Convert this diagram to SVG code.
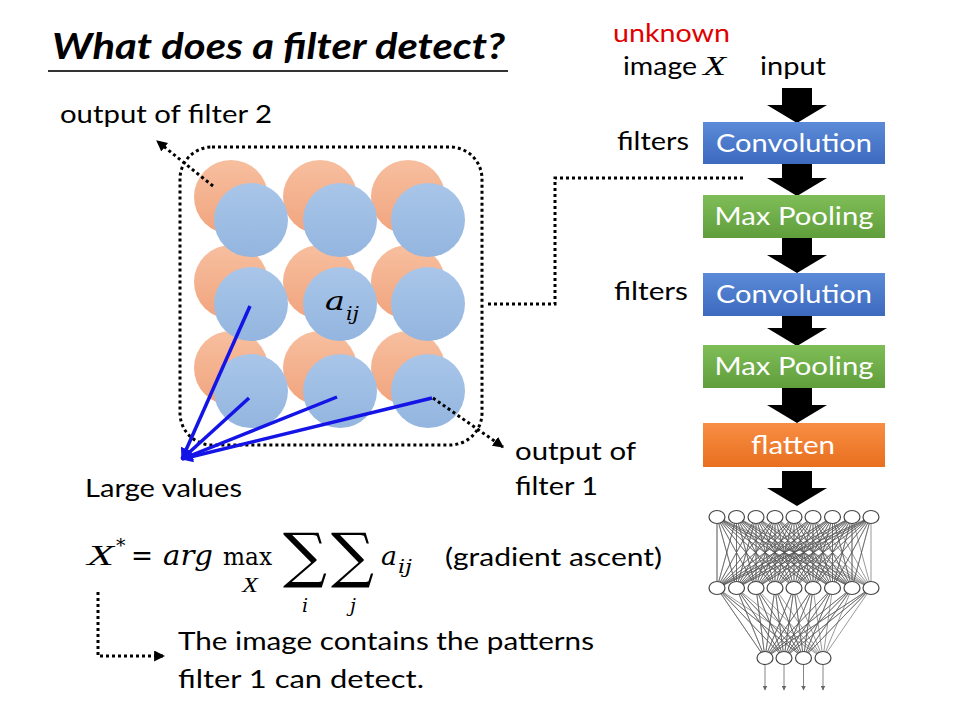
<svg xmlns="http://www.w3.org/2000/svg" width="960" height="720" viewBox="0 0 960 720">
<style>
.t{font-family:Lato,"Open Sans","Liberation Sans",sans-serif;font-size:25px;fill:#000}
.bx{font-family:Lato,"Open Sans","Liberation Sans",sans-serif;font-size:25px;fill:#fff;text-anchor:middle}
.m{font-family:"DejaVu Serif","Liberation Serif",serif;font-style:italic;fill:#000}
.mx{font-family:"Liberation Serif","DejaVu Serif",serif;font-style:italic;fill:#000}
.mu{font-family:"DejaVu Serif","Liberation Serif",serif;fill:#000}
.dot{fill:none;stroke:#000;stroke-width:3;stroke-dasharray:3 3}
.bl{stroke:#1414E6;stroke-width:3.5;fill:none}
.or{fill:url(#go)}
.bu{fill:url(#gb)}
.arr{fill:#000}
.nn{fill:none;stroke:#555;stroke-width:0.6}
.nd{fill:#fff;stroke:#444;stroke-width:1.2}
</style>
<defs>
<linearGradient id="go" x1="0" y1="0" x2="0" y2="1"><stop offset="0" stop-color="#F7BF9F"/><stop offset="1" stop-color="#F1A47E"/></linearGradient>
<linearGradient id="gb" x1="0" y1="0" x2="0" y2="1"><stop offset="0" stop-color="#A9C6E9"/><stop offset="1" stop-color="#93B5DF"/></linearGradient>
<linearGradient id="gcb" x1="0" y1="0" x2="0" y2="1"><stop offset="0" stop-color="#5B8BD8"/><stop offset="1" stop-color="#3D69BE"/></linearGradient>
<linearGradient id="gcg" x1="0" y1="0" x2="0" y2="1"><stop offset="0" stop-color="#7EBD57"/><stop offset="1" stop-color="#5F9E3B"/></linearGradient>
<linearGradient id="gco" x1="0" y1="0" x2="0" y2="1"><stop offset="0" stop-color="#F88E44"/><stop offset="1" stop-color="#E86F1E"/></linearGradient>
<marker id="ah" viewBox="0 0 10 10" refX="9" refY="5" markerWidth="11" markerHeight="11" markerUnits="userSpaceOnUse" orient="auto"><path d="M0,0 L10,5 L0,10 z" fill="#000"/></marker>
<marker id="ahb" viewBox="0 0 10 10" refX="9" refY="5" markerWidth="12" markerHeight="12" markerUnits="userSpaceOnUse" orient="auto"><path d="M0,0 L10,5 L0,10 z" fill="#1414E6"/></marker>
<marker id="ahg" viewBox="0 0 10 10" refX="9" refY="5" markerWidth="5" markerHeight="5" markerUnits="userSpaceOnUse" orient="auto"><path d="M0,0 L10,5 L0,10 z" fill="#666"/></marker>
<path id="bigarrow" d="M-15,0 H15 V17 H30 L0,35 L-30,17 H-15 Z"/>
</defs>

<g id="title">
<text x="52" y="59" font-family="Lato,'Open Sans','Liberation Sans',sans-serif" font-size="36" font-weight="bold" font-style="italic" textLength="453" lengthAdjust="spacingAndGlyphs">What does a filter detect?</text>
<line x1="48" y1="71" x2="508" y2="71" stroke="#333" stroke-width="2"/>
</g>

<g id="label-filter2"><text class="t" x="60" y="123" textLength="212" lengthAdjust="spacingAndGlyphs">output of filter 2</text></g>

<g id="feature-maps">
<rect class="dot" x="180" y="147" width="302" height="298" rx="32"/>
<g id="filter2-output">
<circle class="or" cx="231" cy="197" r="37"/><circle class="or" cx="320" cy="197" r="37"/><circle class="or" cx="408" cy="197" r="37"/>
<circle class="or" cx="231" cy="282" r="37"/><circle class="or" cx="320" cy="282" r="37"/><circle class="or" cx="408" cy="282" r="37"/>
<circle class="or" cx="231" cy="368" r="37"/><circle class="or" cx="320" cy="368" r="37"/><circle class="or" cx="408" cy="368" r="37"/>
</g>
<g id="filter1-output">
<circle class="bu" cx="251" cy="220" r="37"/><circle class="bu" cx="340" cy="220" r="37"/><circle class="bu" cx="428" cy="220" r="37"/>
<circle class="bu" cx="251" cy="304" r="37"/><circle class="bu" cx="340" cy="304" r="37"/><circle class="bu" cx="428" cy="304" r="37"/>
<circle class="bu" cx="251" cy="391" r="37"/><circle class="bu" cx="340" cy="391" r="37"/><circle class="bu" cx="428" cy="391" r="37"/>
</g>
<text class="m" x="325" y="310" font-size="26" textLength="20" lengthAdjust="spacingAndGlyphs">a</text><text class="m" x="346" y="320" font-size="18" textLength="13" lengthAdjust="spacingAndGlyphs">ij</text>
</g>

<g id="connectors">
<path class="dot" d="M213,186 L157,141" marker-end="url(#ah)"/>
<path class="dot" d="M433,398 L503,447" marker-end="url(#ah)"/>
<path class="dot" d="M488,304 H555 V178 H745"/>
<path class="dot" d="M98,592 V656 H164" marker-end="url(#ah)"/>
<path class="bl" d="M250,306 L182,459" marker-end="url(#ahb)"/>
<path class="bl" d="M249,398 L182,459" marker-end="url(#ahb)"/>
<path class="bl" d="M337,397 L182,459" marker-end="url(#ahb)"/>
<path class="bl" d="M432,398 L182,459" marker-end="url(#ahb)"/>
</g>

<g id="label-large"><text class="t" x="85" y="497" textLength="157" lengthAdjust="spacingAndGlyphs">Large values</text></g>
<g id="label-filter1">
<text class="t" x="515" y="460" textLength="121" lengthAdjust="spacingAndGlyphs">output of</text>
<text class="t" x="515" y="495" textLength="83" lengthAdjust="spacingAndGlyphs">filter 1</text>
</g>

<g id="formula">
<text class="mx" x="87" y="565" font-size="30" textLength="27" lengthAdjust="spacingAndGlyphs">X</text>
<text class="mu" x="116" y="552" font-size="19">*</text>
<text class="mu" x="131" y="565" font-size="28" textLength="22" lengthAdjust="spacingAndGlyphs">=</text>
<text class="m" x="163" y="565" font-size="28" textLength="50" lengthAdjust="spacingAndGlyphs">arg</text>
<text class="mu" x="223" y="565" font-size="24" textLength="49" lengthAdjust="spacingAndGlyphs">max</text>
<text class="mx" x="242" y="592" font-size="20" textLength="16" lengthAdjust="spacingAndGlyphs">X</text>
<text font-family="'DejaVu Serif',serif" x="283" y="576" font-size="60" textLength="44" lengthAdjust="spacingAndGlyphs">∑</text>
<text class="m" x="302" y="612" font-size="19">i</text>
<text font-family="'DejaVu Serif',serif" x="331" y="576" font-size="60" textLength="43" lengthAdjust="spacingAndGlyphs">∑</text>
<text class="m" x="350" y="612" font-size="19">j</text>
<text class="m" x="381" y="565" font-size="26" textLength="16" lengthAdjust="spacingAndGlyphs">a</text>
<text class="m" x="398" y="573" font-size="18" textLength="14" lengthAdjust="spacingAndGlyphs">ij</text>
<text class="t" x="445" y="566" textLength="217" lengthAdjust="spacingAndGlyphs">(gradient ascent)</text>
</g>

<g id="conclusion">
<text class="t" x="178" y="650" textLength="416" lengthAdjust="spacingAndGlyphs">The image contains the patterns</text>
<text class="t" x="178" y="688" textLength="246" lengthAdjust="spacingAndGlyphs">filter 1 can detect.</text>
</g>

<g id="input-labels">
<text class="t" x="613" y="42" style="fill:#E00000" textLength="117" lengthAdjust="spacingAndGlyphs">unknown</text>
<text class="t" x="623" y="75" textLength="74" lengthAdjust="spacingAndGlyphs">image</text>
<text class="mx" x="703" y="75" font-size="27" textLength="23" lengthAdjust="spacingAndGlyphs">X</text>
<text class="t" x="760" y="75" textLength="66" lengthAdjust="spacingAndGlyphs">input</text>
<text class="t" x="617" y="150" textLength="72" lengthAdjust="spacingAndGlyphs">filters</text>
<text class="t" x="614" y="300" textLength="74" lengthAdjust="spacingAndGlyphs">filters</text>
</g>

<g id="pipeline-arrows" class="arr">
<use href="#bigarrow" x="797" y="88"/>
<use href="#bigarrow" x="797" y="161"/>
<use href="#bigarrow" x="797" y="238"/>
<use href="#bigarrow" x="797" y="311"/>
<use href="#bigarrow" x="797" y="388"/>
<use href="#bigarrow" x="797" y="471"/>
</g>

<g id="conv1"><rect x="703" y="122" width="182" height="42" fill="url(#gcb)"/><text class="bx" x="794" y="152" textLength="156" lengthAdjust="spacingAndGlyphs">Convolution</text></g>
<g id="pool1"><rect x="703" y="195" width="182" height="43" fill="url(#gcg)"/><text class="bx" x="794" y="225" textLength="159" lengthAdjust="spacingAndGlyphs">Max Pooling</text></g>
<g id="conv2"><rect x="703" y="273" width="182" height="43" fill="url(#gcb)"/><text class="bx" x="794" y="303" textLength="156" lengthAdjust="spacingAndGlyphs">Convolution</text></g>
<g id="pool2"><rect x="703" y="345" width="182" height="43" fill="url(#gcg)"/><text class="bx" x="794" y="375" textLength="159" lengthAdjust="spacingAndGlyphs">Max Pooling</text></g>
<g id="flatten"><rect x="703" y="423" width="182" height="44" fill="url(#gco)"/><text class="bx" x="793" y="454" textLength="84" lengthAdjust="spacingAndGlyphs">flatten</text></g>

<g id="fc-network">
<path class="nn" d="M717 517L717 588 717 517 736.5 588 717 517 756 588 717 517 775 588 717 517 794 588 717 517 813 588 717 517 832.5 588 717 517 852 588 717 517 871 588
M736.5 517L717 588 736.5 517 736.5 588 736.5 517 756 588 736.5 517 775 588 736.5 517 794 588 736.5 517 813 588 736.5 517 832.5 588 736.5 517 852 588 736.5 517 871 588
M756 517L717 588 756 517 736.5 588 756 517 756 588 756 517 775 588 756 517 794 588 756 517 813 588 756 517 832.5 588 756 517 852 588 756 517 871 588
M775 517L717 588 775 517 736.5 588 775 517 756 588 775 517 775 588 775 517 794 588 775 517 813 588 775 517 832.5 588 775 517 852 588 775 517 871 588
M794 517L717 588 794 517 736.5 588 794 517 756 588 794 517 775 588 794 517 794 588 794 517 813 588 794 517 832.5 588 794 517 852 588 794 517 871 588
M813 517L717 588 813 517 736.5 588 813 517 756 588 813 517 775 588 813 517 794 588 813 517 813 588 813 517 832.5 588 813 517 852 588 813 517 871 588
M832.5 517L717 588 832.5 517 736.5 588 832.5 517 756 588 832.5 517 775 588 832.5 517 794 588 832.5 517 813 588 832.5 517 832.5 588 832.5 517 852 588 832.5 517 871 588
M852 517L717 588 852 517 736.5 588 852 517 756 588 852 517 775 588 852 517 794 588 852 517 813 588 852 517 832.5 588 852 517 852 588 852 517 871 588
M871 517L717 588 871 517 736.5 588 871 517 756 588 871 517 775 588 871 517 794 588 871 517 813 588 871 517 832.5 588 871 517 852 588 871 517 871 588
M717 588L765 658 717 588 784 658 717 588 803.5 658 717 588 823 658
M736.5 588L765 658 736.5 588 784 658 736.5 588 803.5 658 736.5 588 823 658
M756 588L765 658 756 588 784 658 756 588 803.5 658 756 588 823 658
M775 588L765 658 775 588 784 658 775 588 803.5 658 775 588 823 658
M794 588L765 658 794 588 784 658 794 588 803.5 658 794 588 823 658
M813 588L765 658 813 588 784 658 813 588 803.5 658 813 588 823 658
M832.5 588L765 658 832.5 588 784 658 832.5 588 803.5 658 832.5 588 823 658
M852 588L765 658 852 588 784 658 852 588 803.5 658 852 588 823 658
M871 588L765 658 871 588 784 658 871 588 803.5 658 871 588 823 658"/>
<g stroke="#666" stroke-width="0.8">
<line x1="765" y1="664" x2="765" y2="690" marker-end="url(#ahg)"/>
<line x1="784" y1="664" x2="784" y2="690" marker-end="url(#ahg)"/>
<line x1="803.5" y1="664" x2="803.5" y2="690" marker-end="url(#ahg)"/>
<line x1="823" y1="664" x2="823" y2="690" marker-end="url(#ahg)"/>
</g>
<g class="nd">
<ellipse cx="717" cy="517" rx="8" ry="6.5"/><ellipse cx="736.5" cy="517" rx="8" ry="6.5"/><ellipse cx="756" cy="517" rx="8" ry="6.5"/><ellipse cx="775" cy="517" rx="8" ry="6.5"/><ellipse cx="794" cy="517" rx="8" ry="6.5"/><ellipse cx="813" cy="517" rx="8" ry="6.5"/><ellipse cx="832.5" cy="517" rx="8" ry="6.5"/><ellipse cx="852" cy="517" rx="8" ry="6.5"/><ellipse cx="871" cy="517" rx="8" ry="6.5"/>
<ellipse cx="717" cy="588" rx="8" ry="6.5"/><ellipse cx="736.5" cy="588" rx="8" ry="6.5"/><ellipse cx="756" cy="588" rx="8" ry="6.5"/><ellipse cx="775" cy="588" rx="8" ry="6.5"/><ellipse cx="794" cy="588" rx="8" ry="6.5"/><ellipse cx="813" cy="588" rx="8" ry="6.5"/><ellipse cx="832.5" cy="588" rx="8" ry="6.5"/><ellipse cx="852" cy="588" rx="8" ry="6.5"/><ellipse cx="871" cy="588" rx="8" ry="6.5"/>
<ellipse cx="765" cy="658" rx="8" ry="6.5"/><ellipse cx="784" cy="658" rx="8" ry="6.5"/><ellipse cx="803.5" cy="658" rx="8" ry="6.5"/><ellipse cx="823" cy="658" rx="8" ry="6.5"/>
</g>
</g>
</svg>
